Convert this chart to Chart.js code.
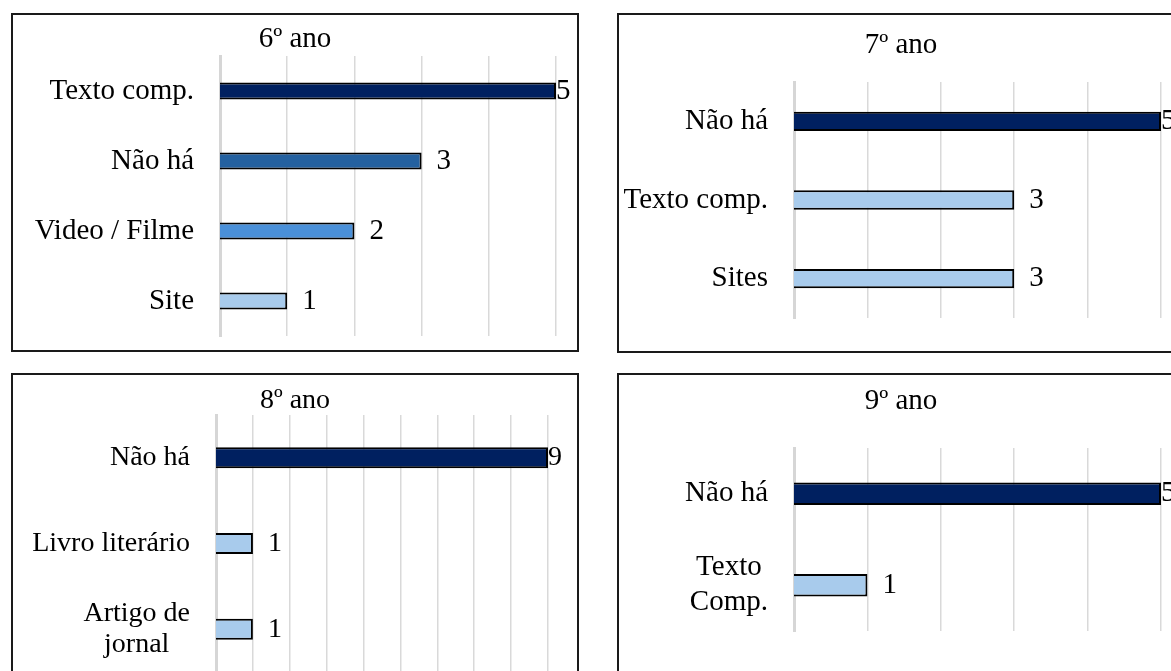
<!DOCTYPE html>
<html lang="pt">
<head>
<meta charset="utf-8">
<title>Recursos por ano</title>
<script src="https://cdn.jsdelivr.net/npm/chart.js@4.4.1/dist/chart.umd.min.js"></script>
<style>
  html, body { margin: 0; padding: 0; background: #fff; }
  body { width: 1171px; height: 671px; overflow: hidden; position: relative; }
  .painel { position: absolute; border: 2px solid #1a1a1a; background: #fff; }
  .painel canvas { display: block; }
</style>
</head>
<body>
<div class="painel" style="left:11px;top:13px;width:564px;height:335px"><canvas id="g6" width="564" height="335"></canvas></div>
<div class="painel" style="left:617px;top:13px;width:564px;height:336px"><canvas id="g7" width="564" height="336"></canvas></div>
<div class="painel" style="left:11px;top:373px;width:564px;height:320px"><canvas id="g8" width="564" height="320"></canvas></div>
<div class="painel" style="left:617px;top:373px;width:564px;height:320px"><canvas id="g9" width="564" height="320"></canvas></div>

<script>
// dados
const titulo6 = '6º ano';
const categorias6 = ['Texto comp.', 'Não há', 'Video / Filme', 'Site'];
const valores6 = [5, 3, 2, 1];

const titulo7 = '7º ano';
const categorias7 = ['Não há', 'Texto comp.', 'Sites'];
const valores7 = [5, 3, 3];

const titulo8 = '8º ano';
const categorias8 = ['Não há', 'Livro literário', ['Artigo de', 'jornal']];
const valores8 = [9, 1, 1];

const titulo9 = '9º ano';
const categorias9 = ['Não há', ['Texto', 'Comp.']];
const valores9 = [5, 1];

const maximos = [5, 5, 9, 5];

// cores
const azulEscuro = '#002060';
const azulMedio = '#2461a0';
const azulVivo = '#4a90d9';
const azulClaro = '#a8cbec';
const fonte = '"Liberation Serif", "Times New Roman", serif';

// desenha rótulos das categorias e dos valores
const rotulos = {
    id: 'rotulos',
    afterDatasetsDraw(chart, args, opts) {
        const ctx = chart.ctx;
        const meta = chart.getDatasetMeta(0);
        const xMax = chart.scales.x.max;
        ctx.save();
        ctx.font = opts.tamanho + 'px ' + fonte;
        ctx.fillStyle = '#000';
        ctx.textBaseline = 'middle';
        meta.data.forEach((barra, i) => {
            const valor = chart.data.datasets[0].data[i];
            ctx.textAlign = 'left';
            const dx = valor === xMax ? 0 : 15;
            ctx.fillText(String(valor), barra.x + dx, barra.y);

            const cat = chart.data.labels[i];
            const linhas = Array.isArray(cat) ? cat : [cat];
            const largura = Math.max(...linhas.map(l => ctx.measureText(l).width));
            const xDir = chart.chartArea.left - 26;
            ctx.textAlign = 'center';
            linhas.forEach((l, k) => {
                const y = barra.y + (k - (linhas.length - 1) / 2) * opts.entreLinhas;
                ctx.fillText(l, xDir - largura / 2, y);
            });
        });
        ctx.restore();
    }
};

function criaGrafico(id, titulo, categorias, valores, cores, maximo, lay) {
    const config = {
        type: 'bar',
        data: {
            labels: categorias,
            datasets: [{
                data: valores,
                backgroundColor: cores,
                borderColor: '#000',
                borderWidth: 2,
                barPercentage: 0.245,
                categoryPercentage: 1
            }]
        },
        options: {
            indexAxis: 'y',
            responsive: false,
            animation: false,
            events: [],
            layout: { padding: { left: lay.lado, right: lay.lado, top: 0, bottom: lay.baixo } },
            scales: {
                x: {
                    min: 0,
                    max: maximo,
                    ticks: { display: false, stepSize: 1 },
                    grid: {
                        color: '#d9d9d9',
                        lineWidth: (c) => c.index === 0 ? 0 : 1.5,
                        drawTicks: false
                    },
                    border: { display: false }
                },
                y: {
                    ticks: { display: false },
                    grid: { display: false, drawTicks: false },
                    border: { display: true, color: '#d6d6d6', width: 3 },
                    afterFit: (escala) => { escala.width = lay.eixo; }
                }
            },
            plugins: {
                legend: { display: false },
                tooltip: { enabled: false },
                title: {
                    display: true,
                    text: titulo,
                    color: '#000',
                    font: { family: fonte, size: lay.tamanho, weight: 'normal', lineHeight: 1 },
                    padding: { top: lay.tituloCima, bottom: lay.tituloBaixo }
                },
                rotulos: { entreLinhas: lay.entreLinhas, tamanho: lay.tamanho }
            }
        },
        plugins: [rotulos]
    };
    return new Chart(document.getElementById(id), config);
}

criaGrafico('g6', titulo6, categorias6, valores6,
    [azulEscuro, azulMedio, azulVivo, azulClaro], maximos[0],
    { lado: 21, eixo: 186, baixo: 14, tituloCima: 10, tituloBaixo: 2, entreLinhas: 31, tamanho: 29 });

criaGrafico('g7', titulo7, categorias7, valores7,
    [azulEscuro, azulClaro, azulClaro], maximos[1],
    { lado: 22, eixo: 153, baixo: 33, tituloCima: 16, tituloBaixo: 22, entreLinhas: 31, tamanho: 29 });

criaGrafico('g8', titulo8, categorias8, valores8,
    [azulEscuro, azulClaro, azulClaro], maximos[2],
    { lado: 29, eixo: 174, baixo: 23, tituloCima: 12, tituloBaixo: 0, entreLinhas: 31, tamanho: 28 });

criaGrafico('g9', titulo9, categorias9, valores9,
    [azulEscuro, azulClaro], maximos[3],
    { lado: 22, eixo: 153, baixo: 64, tituloCima: 12, tituloBaixo: 32, entreLinhas: 35, tamanho: 29 });
</script>
</body>
</html>
